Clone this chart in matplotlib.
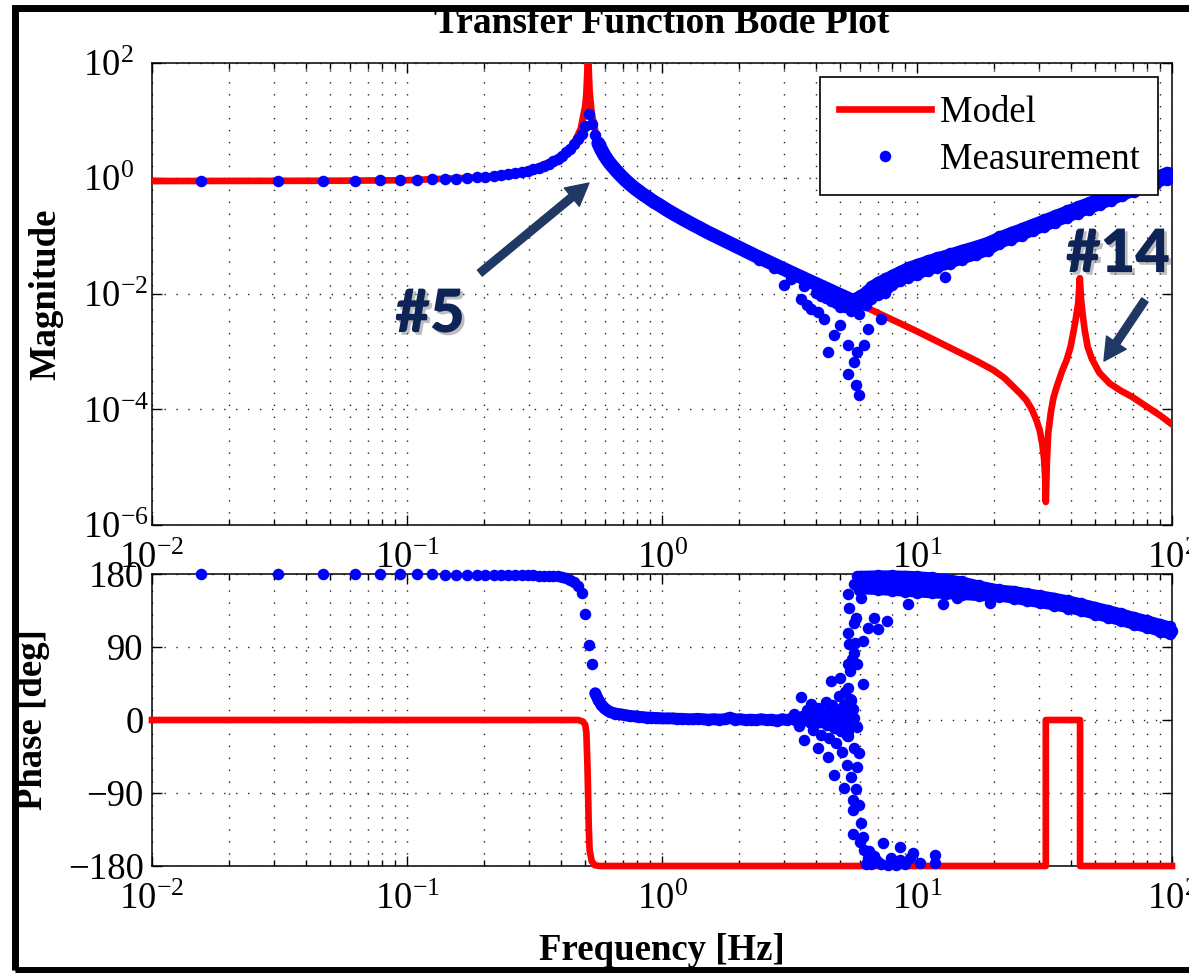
import numpy as np
import matplotlib
matplotlib.use("Agg")
import matplotlib.pyplot as plt
from matplotlib.ticker import LogLocator, NullFormatter, NullLocator, FixedLocator
from matplotlib.patches import Rectangle
import matplotlib.patheffects as pe

plt.rcParams['font.family'] = ['Liberation Serif', 'DejaVu Serif']
plt.rcParams['mathtext.fontset'] = 'custom'
plt.rcParams['mathtext.rm'] = 'Liberation Serif'
plt.rcParams['mathtext.it'] = 'Liberation Serif:italic'
plt.rcParams['mathtext.bf'] = 'Liberation Serif:bold'

# ---------------- data ----------------
# Model magnitude
model_mag_freq = [0.01, 0.05, 0.1, 0.2, 0.3, 0.4, 0.45, 0.48, 0.5, 0.505,
                  0.51, 0.513, 0.516, 0.52, 0.53, 0.55, 0.6, 0.7, 0.8, 1.0,
                  1.5, 2.0, 3.0, 5.0, 7.0, 10.0, 15.0, 17.0, 19.9, 22.0,
                  23.9, 25.5, 26.8, 28.2, 29.4, 30.3, 31.0, 31.5, 31.8, 32.0,
                  32.3, 32.7, 33.5, 34.3, 35.3, 37.0, 38.6, 40.0, 41.0, 42.0,
                  42.9, 43.5, 44.0, 44.6, 45.5, 46.7, 48.5, 51.9, 57.0, 63.0,
                  69.7, 80.0, 90.0, 100.0]
model_mag = [0.89, 0.90, 0.92, 1.04, 1.35, 2.27, 3.86, 7.15, 17.8, 28.7,
             76.7, 300.0, 76.0, 32.4, 13.2, 5.96, 2.42, 1.03, 0.62, 0.318,
             0.118, 0.0627, 0.0268, 0.00947, 0.00469, 0.00224, 9.2e-4, 7.0e-4, 4.8e-4, 3.5e-4,
             2.45e-4, 1.85e-4, 1.45e-4, 1.0e-4, 6.5e-5, 4.3e-5, 2.5e-5, 1.4e-5, 7.0e-6, 2.5e-6,
             1.2e-5, 3.9e-5, 9.0e-5, 1.6e-4, 2.45e-4, 4.5e-4, 7.1e-4, 1.2e-3, 2.1e-3, 3.8e-3,
             7.0e-3, 0.0186, 8.0e-3, 4.5e-3, 2.3e-3, 1.2e-3, 7.5e-4, 4.3e-4, 2.8e-4, 2.1e-4,
             1.65e-4, 1.1e-4, 7.8e-5, 5.5e-5]

# Model phase
model_phase_freq = [0.01, 0.47, 0.49, 0.50, 0.505, 0.51, 0.513, 0.516, 0.52, 0.53,
                    0.545, 0.57, 32.0, 32.0, 43.6, 43.6, 100.0]
model_phase = [0, 0, -2, -6, -15, -55, -90, -130, -160, -174,
               -179, -180, -180, 0, 0, -180, -180]

# Measurement (main trend), in chunks
meas_freq_1 = [0.0156, 0.0313, 0.0469, 0.0625, 0.0781, 0.0938, 0.1094, 0.125, 0.1406, 0.1563,
               0.1719, 0.1875, 0.2031, 0.2188, 0.2344, 0.25, 0.2656, 0.2813, 0.2969, 0.3125,
               0.3281, 0.3438, 0.3594, 0.375, 0.3906, 0.4063, 0.4219, 0.4375, 0.4531, 0.4688,
               0.4844, 0.5, 0.5156, 0.5313, 0.5469, 0.5625, 0.5781, 0.5938, 0.6094, 0.625]
meas_mag_1 = [0.89, 0.89, 0.90, 0.90, 0.91, 0.92, 0.93, 0.95, 0.96, 0.98,
              1.00, 1.03, 1.06, 1.09, 1.13, 1.17, 1.22, 1.28, 1.35, 1.43,
              1.52, 1.63, 1.77, 1.94, 2.15, 2.44, 2.8, 3.25, 3.9, 4.7,
              5.8, 8.0, 13.0, 8.5, 5.6, 4.0, 3.1, 2.5, 2.1, 1.8]
meas_phase_1 = [179.5, 179.5, 179.5, 179.5, 179.5, 179.5, 179.5, 179.5, 179, 179,
                179, 179, 179, 179, 179, 178.5, 178.5, 178.5, 178.5, 178.5,
                178, 178, 178, 177.5, 177.5, 176.5, 175, 173, 170, 165,
                157, 131, 93, 69, 33, 25, 19, 15, 12, 10]

meas_freq_2 = [0.6563, 0.6875, 0.7188, 0.75, 0.7813, 0.8125, 0.8438, 0.875, 0.9063, 0.9375, 0.9688, 1.0]
meas_mag_2 = [1.40, 1.12, 0.92, 0.78, 0.67, 0.59, 0.52, 0.47, 0.42, 0.38, 0.35, 0.32]
meas_phase_2 = [8, 7, 6, 5, 4.5, 4, 3.5, 3, 3, 2.5, 2.5, 2]

meas_freq_3 = [1.05, 1.1, 1.15, 1.2, 1.26, 1.32, 1.38, 1.45, 1.52, 1.6,
               1.68, 1.76, 1.85, 1.94, 2.03, 2.13, 2.23, 2.34, 2.45, 2.57,
               2.7, 2.83, 2.96, 3.1, 3.25, 3.4, 3.55, 3.7, 3.85, 4.0,
               4.15, 4.3, 4.45, 4.6, 4.75, 4.9, 5.05, 5.2, 5.35, 5.5]
meas_mag_3 = [0.279, 0.247, 0.221, 0.199, 0.177, 0.158, 0.143, 0.127, 0.114, 0.102,
              0.0915, 0.0826, 0.0741, 0.0669, 0.0607, 0.0548, 0.0497, 0.0449, 0.0408, 0.0369,
              0.0333, 0.0302, 0.0276, 0.0251, 0.0227, 0.0207, 0.0190, 0.0174, 0.0161, 0.0149,
              0.0138, 0.0129, 0.0120, 0.0112, 0.0105, 0.0099, 0.0093, 0.0088, 0.0083, 0.0078]
meas_phase_3 = [2, 2, 1.5, 1.5, 1, 1, 1.5, 1, 0.5, 1,
                0.5, 1, 3, 0.5, 1, 0, 0.5, 0, 1, 0,
                0.5, -1, 1, 0, 2, -2, 4, 0, -4, 6,
                -3, 8, -6, 10, -10, 12, -14, 18, -20, 25]

meas_freq_4 = [5.65, 5.8, 5.95, 6.1, 6.25, 6.4, 6.55, 6.7, 6.85, 7.0,
               7.2, 7.4, 7.6, 7.8, 8.0, 8.25, 8.5, 8.75, 9.0, 9.3,
               9.6, 10, 10.4, 10.8, 11.2, 11.7, 12.2, 12.7, 13.2, 13.8,
               14.4, 15, 15.7, 16.4, 17.1, 17.9, 18.7, 19.5, 20.4]
meas_mag_4 = [0.0072, 0.0066, 0.0068, 0.0076, 0.0085, 0.0095, 0.0105, 0.0112, 0.0118, 0.0122,
              0.0130, 0.0142, 0.0153, 0.0163, 0.0175, 0.0190, 0.0203, 0.0215, 0.0226, 0.0238,
              0.0250, 0.0263, 0.0278, 0.0292, 0.0307, 0.0325, 0.0345, 0.0366, 0.0388, 0.0415,
              0.0443, 0.047, 0.051, 0.055, 0.059, 0.064, 0.069, 0.074, 0.080]
meas_phase_4 = [120, 165, 172, 173, 174, 174, 173, 173, 172, 172,
                172, 171, 171, 171, 170, 170, 170, 169, 169, 168,
                168, 167, 167, 166, 166, 165, 165, 164, 164, 163,
                163, 162, 161, 160.5, 160, 159, 158.5, 158, 157]

meas_freq_5 = [21.3, 22.3, 23.3, 24.3, 25.4, 26.5, 27.7, 28.9, 30.2, 31.6,
               33, 34.5, 36, 37.6, 39.3, 41, 42.9, 44.8, 46.8, 48.9,
               51.1, 53.4, 55.8, 58.3, 60.9, 63.6, 66.4, 69.4, 72.5, 75.7,
               79.1, 82.6, 86.3, 90.2, 94.2, 98.4, 100]
meas_mag_5 = [0.086, 0.093, 0.100, 0.107, 0.115, 0.124, 0.133, 0.143, 0.154, 0.167,
              0.180, 0.194, 0.209, 0.225, 0.243, 0.261, 0.282, 0.303, 0.327, 0.353,
              0.381, 0.411, 0.444, 0.48, 0.52, 0.56, 0.60, 0.65, 0.70, 0.75,
              0.81, 0.87, 0.93, 1.00, 1.07, 1.15, 1.18]
meas_phase_5 = [156, 155.5, 155, 154, 153, 152, 151, 150, 149, 148,
                147, 146, 145, 144, 142.5, 141, 140, 138.5, 137, 135.5,
                134, 132.5, 131, 129.5, 128, 126.5, 125, 123, 121.5, 120,
                118.5, 117, 115, 113.5, 112, 110.5, 110]

# Magnitude: scattered outliers around the notch
mag_noise_freq = [4.47, 5.35, 5.75, 5.9, 5.67, 4.71, 4.08, 3.72, 5.35, 6.18,
                  6.4, 5.0, 5.84, 3.83, 4.3, 7.2, 12.9, 3.5, 3.0,
                  3.2, 3.6, 4.0, 4.2, 4.4, 4.6, 4.8, 5.0, 5.2, 5.5, 5.9,
                  2.4, 2.75]
mag_noise = [9.8e-4, 4.1e-4, 2.6e-4, 1.75e-4, 6.6e-4, 1.9e-3, 4.9e-3, 6.4e-3, 1.3e-3, 1.3e-3,
             2.5e-3, 2.9e-3, 9.8e-4, 5.5e-3, 3.7e-3, 3.7e-3, 0.0198, 8.2e-3, 0.0144,
             0.018, 0.0135, 0.0105, 0.0092, 0.0085, 0.0075, 0.0068, 0.0060, 0.0058, 0.0050, 0.0045,
             0.038, 0.028]
# Magnitude: upper / lower edges of the dense band above the notch
mag_upper_freq = [5.7, 6.0, 6.3, 6.6, 7.0, 7.5, 8.0, 8.6, 9.2, 10,
                  11, 12, 13.5, 15, 17, 19, 21.0, 23.3, 25.8, 28.5,
                  31.5, 34.9, 38.6, 42.7, 47.2, 52.2, 57.8, 63.9, 70.7, 78.2,
                  86.5, 95.7]
mag_upper = [0.0085, 0.0095, 0.0110, 0.0135, 0.0160, 0.0185, 0.0215, 0.025, 0.029, 0.033,
             0.038, 0.043, 0.050, 0.058, 0.068, 0.080, 0.098, 0.117, 0.138, 0.164,
             0.194, 0.232, 0.276, 0.328, 0.388, 0.462, 0.553, 0.661, 0.79, 0.936,
             1.09, 1.29]
mag_lower_freq = [6.3, 6.6, 7.0, 7.5, 8.0, 8.6, 9.2, 10, 11, 12,
                  13.5, 15, 17, 19, 21.0, 23.3, 25.8, 28.5, 31.5, 34.9,
                  38.6, 42.7, 47.2, 52.2, 57.8, 63.9, 70.7, 78.2, 86.5, 95.7]
mag_lower = [0.0065, 0.0080, 0.0095, 0.0105, 0.0140, 0.0165, 0.019, 0.021, 0.025, 0.028,
             0.033, 0.039, 0.046, 0.055, 0.072, 0.086, 0.101, 0.120, 0.143, 0.170,
             0.203, 0.241, 0.286, 0.340, 0.407, 0.486, 0.58, 0.688, 0.804, 0.946]

# Phase: scattered points of the wrap-around region
phase_noise_freq = [3.50, 3.83, 4.59, 5.01, 5.35, 5.59, 3.60, 4.08, 4.47, 4.71,
                    5.15, 5.59, 5.59, 6.01, 6.12, 6.18, 6.40, 7.0, 7.67, 7.33,
                    8.61, 9.68, 10.3, 11.8, 11.8, 8.61, 8.09, 5.84, 5.9, 5.67,
                    5.84, 5.67, 5.35, 5.41, 5.35, 6.12, 6.12, 5.84, 5.67, 5.41,
                    5.75, 6.40, 7.0, 7.6, 5.35, 5.67, 9.18, 12.7, 14.4, 19.4,
                    39.2, 6.76,
                    6.6, 6.9, 7.2, 7.9, 8.3, 9.0, 9.4, 6.5, 6.3, 6.8,
                    3.3, 3.45, 3.7, 3.9, 4.1, 4.2, 4.4, 4.5, 4.65, 4.8,
                    4.95, 5.1, 5.2, 5.3, 5.45, 5.5, 5.55, 5.6, 5.75, 5.7,
                    5.9, 5.95, 6.05, 5.8, 5.9]
phase_noise = [28, 20, 48, 52, 40, 14, -25, -34, -46, -68,
               -84, -99, -111, -127, -144, -160, -170, -175, -179, -152,
               -157, -164, -176, -166, -176, -173, -176, -58, -41, -34,
               -9, 3, 69, 94, 107, 98, 45, 69, 82, 138,
               126, 114, 112, 122, 155, 168, 143, 143, 151, 144,
               137, 126,
               -178, -172, -178, -170, -179, -177, -170, -162, -178, -168,
               8, -8, 12, -12, 15, -18, 22, -22, 18, -28,
               30, -40, 35, -55, 60, -70, 75, -140, -85, 95,
               -105, -150, 150, 178, 160]
# Phase: upper / lower edges of the dense band above 6 Hz
phase_edge_freq = [6.0, 7.0, 8.0, 9.0, 10.0, 11.5, 13.0, 15.0, 17.5, 21,
                   24, 27, 30.5, 34.5, 39, 44, 50, 56, 63, 71,
                   80, 90, 98]
phase_upper = [178, 178.5, 178.5, 178, 177.5, 176, 174, 171, 166, 161,
               159.3, 156.5, 153.8, 151, 147.7, 144, 139.7, 135.9, 131.8, 127.2,
               123.1, 118.6, 115.6]
phase_lower = [161, 160, 159, 158, 157, 156, 155, 154, 152.5, 152,
               149.3, 146.5, 143.8, 141, 137.7, 134, 129.7, 125.9, 121.8, 117.2,
               113.1, 108.6, 105.6]

mag_yticks = [1e-6, 1e-4, 1e-2, 1e0, 1e2]
phase_yticks = [-180, -90, 0, 90, 180]

meas_freq = np.concatenate([meas_freq_1, meas_freq_2, meas_freq_3, meas_freq_4, meas_freq_5])
meas_mag = np.concatenate([meas_mag_1, meas_mag_2, meas_mag_3, meas_mag_4, meas_mag_5])
meas_phase = np.concatenate([meas_phase_1, meas_phase_2, meas_phase_3, meas_phase_4, meas_phase_5])

# ---------------- figure ----------------
W, H = 1189, 973
fig = plt.figure(figsize=(W / 100, H / 100), dpi=100)
ax1 = fig.add_axes([152 / W, 1 - 525 / H, 1020 / W, (525 - 62.5) / H])
ax2 = fig.add_axes([152 / W, 1 - 866 / H, 1020 / W, (866 - 574) / H])

FS = 26.5
RED = '#ff0000'
BLUE = '#0000ff'
MS = 8.3
dot_style = dict(marker='o', linestyle='none', color=BLUE, markersize=MS, markeredgewidth=0)
band_style = dict(color=BLUE, solid_capstyle='round', solid_joinstyle='round')

# Magnitude
ax1.loglog(model_mag_freq, model_mag, color=RED, lw=4.8, label='Model', zorder=3)
dense_m = meas_freq >= 0.56
ax1.loglog(meas_freq[dense_m], meas_mag[dense_m], lw=10, zorder=4, **band_style)
ax1.loglog(mag_upper_freq, mag_upper, lw=7, zorder=4, **band_style)
ax1.loglog(mag_lower_freq, mag_lower, lw=7, zorder=4, **band_style)
ax1.loglog(meas_freq, meas_mag, label='Measurement', zorder=4, **dot_style)
ax1.loglog(mag_upper_freq, mag_upper, zorder=4, **dot_style)
ax1.loglog(mag_lower_freq, mag_lower, zorder=4, **dot_style)
ax1.loglog(mag_noise_freq, mag_noise, zorder=4, **dot_style)
ax1.set_xlim(0.01, 100)
ax1.set_ylim(1e-6, 1e2)
ax1.yaxis.set_major_locator(FixedLocator(mag_yticks))
ax1.yaxis.set_minor_locator(NullLocator())

# Phase
ax2.semilogx(model_phase_freq, model_phase, color=RED, lw=4.8, zorder=3, clip_on=False)
seg_a = (meas_freq >= 0.54) & (meas_freq <= 5.55)
seg_b = meas_freq >= 5.9
ax2.semilogx(meas_freq[seg_a], meas_phase[seg_a], lw=8.5, zorder=4, clip_on=False, **band_style)
ax2.semilogx(meas_freq[seg_b], meas_phase[seg_b], lw=8.5, zorder=4, clip_on=False, **band_style)
ax2.semilogx(phase_edge_freq, phase_upper, lw=7, zorder=4, clip_on=False, **band_style)
ax2.semilogx(phase_edge_freq, phase_lower, lw=7, zorder=4, clip_on=False, **band_style)
ax2.semilogx(meas_freq, meas_phase, zorder=4, clip_on=False, **dot_style)
ax2.semilogx(phase_edge_freq, phase_upper, zorder=4, clip_on=False, **dot_style)
ax2.semilogx(phase_edge_freq, phase_lower, zorder=4, clip_on=False, **dot_style)
ax2.semilogx(phase_noise_freq, phase_noise, zorder=4, clip_on=False, **dot_style)
ax2.set_xlim(0.01, 100)
ax2.set_ylim(-180, 180)
ax2.yaxis.set_major_locator(FixedLocator(phase_yticks))
ax2.yaxis.set_minor_locator(NullLocator())

grid_style = dict(color='#222222', linestyle=(0, (1, 7.6)), linewidth=1.0)
for ax in (ax1, ax2):
    ax.xaxis.set_major_locator(LogLocator(base=10, numticks=10))
    ax.xaxis.set_minor_locator(LogLocator(base=10, subs=np.arange(2, 10), numticks=20))
    ax.xaxis.set_minor_formatter(NullFormatter())
    ax.grid(True, which='major', axis='both', **grid_style)
    ax.grid(True, which='minor', axis='x', **grid_style)
    ax.tick_params(which='both', direction='in', top=True, right=True, width=1.0, colors='k')
    ax.tick_params(which='major', length=7.5)
    ax.tick_params(which='minor', length=4)
    ax.tick_params(axis='x', which='major', labelsize=FS, pad=12)
    ax.tick_params(axis='y', which='major', labelsize=FS, pad=6)
    for s in ax.spines.values():
        s.set_linewidth(1.1)
        s.set_color('k')

# magnitude tick labels: the "10" bases are left-aligned as in the original
ax1.tick_params(axis='y', which='major', pad=50)
for lbl in ax1.get_yticklabels():
    lbl.set_horizontalalignment('left')

ax1.set_ylabel('Magnitude', fontsize=FS, fontweight='bold')
ax1.yaxis.set_label_coords(-0.087, 0.5)
ax2.set_ylabel('Phase [deg]', fontsize=FS, fontweight='bold')
ax2.yaxis.set_label_coords(-0.100, 0.5)
ax2.set_xlabel('Frequency [Hz]', fontsize=FS, fontweight='bold')
ax2.xaxis.set_label_coords(0.5, -0.228)

leg = ax1.legend(loc='upper right', bbox_to_anchor=(0.9863, 0.9686), fontsize=FS,
                 frameon=True, fancybox=False, framealpha=1, edgecolor='k',
                 borderaxespad=0, borderpad=0.5, handlelength=2.5,
                 handletextpad=0.25, labelspacing=0.33)
leg.get_frame().set_linewidth(1.2)

# Title
fig.text(662 / W, 1 - 33 / H, 'Transfer Function Bode Plot', ha='center', va='baseline',
         fontsize=27, fontweight='bold')

# Annotations
ARROW_C = '#203864'
TEXT_C = '#0f2456'
shadow = [pe.withSimplePatchShadow(offset=(2, -2), shadow_rgbFace='#7f7f7f', alpha=0.5)]
ax1.annotate('', xy=(0.517, 0.822), xytext=(0.193, 0.0228),
             arrowprops=dict(width=5.5, headwidth=17, headlength=16, color=ARROW_C, shrink=0))
ax1.annotate('', xy=(54.1, 6.85e-4), xytext=(78.3, 7.78e-3),
             arrowprops=dict(width=5.5, headwidth=17, headlength=16, color=ARROW_C, shrink=0))
ax1.text(0.123, 2.17e-3, '#5', fontfamily='Lato', fontweight='heavy', fontsize=43,
         color=TEXT_C, ha='center', va='baseline', path_effects=shadow, zorder=6)
ax1.text(61.4, 0.0237, '#14', fontfamily='Lato', fontweight='heavy', fontsize=43,
         color=TEXT_C, ha='center', va='baseline', path_effects=shadow, zorder=6)

# Outer black frame
fig.add_artist(Rectangle((15 / W, 3 / H), (1300 - 15) / W, (970 - 7.5) / H,
                         fill=False, lw=5, ec='k', transform=fig.transFigure, zorder=10))

fig.savefig('out.png', dpi=100)
